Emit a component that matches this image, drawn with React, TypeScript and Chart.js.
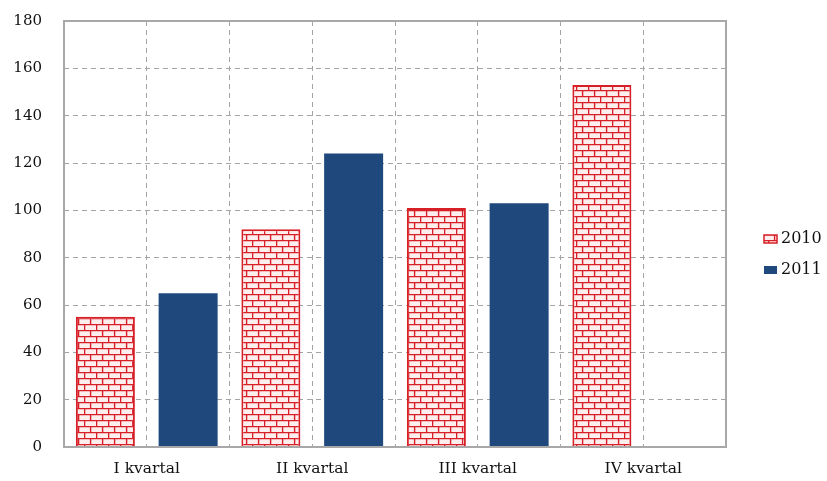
import React, { useEffect, useRef } from "react";
import { Chart, registerables } from "chart.js";

Chart.register(...registerables);

const categories = ["I kvartal", "II kvartal", "III kvartal", "IV kvartal"];
const seriesLabels = ["2010", "2011"];
const values2010 = [55, 92, 101, 153];
const values2011: (number | null)[] = [65, 124, 103, null];
const yMin = 0;
const yMax = 180;
const yStep = 20;

const FONT = "'DejaVu Serif', serif";
const RED = "#d61f27";
const BLUE = "#1f497d";

function makeBrick(): CanvasPattern | string {
  const c = document.createElement("canvas");
  c.width = 12;
  c.height = 12;
  const g = c.getContext("2d");
  if (!g) return "#fff";
  g.fillStyle = "#ffeeee";
  g.fillRect(0, 0, 12, 12);
  g.strokeStyle = RED;
  g.lineWidth = 1.4;
  g.beginPath();
  g.moveTo(0, 0.6);
  g.lineTo(12, 0.6);
  g.moveTo(0, 6.6);
  g.lineTo(12, 6.6);
  g.moveTo(0.6, 0);
  g.lineTo(0.6, 6);
  g.moveTo(6.6, 6);
  g.lineTo(6.6, 12);
  g.stroke();
  return g.createPattern(c, "repeat") || "#fff";
}

const framePlugin = {
  id: "frame",
  afterDatasetsDraw(chart: any) {
    const { ctx, chartArea } = chart;
    ctx.save();
    ctx.strokeStyle = "#a8a8a8";
    ctx.lineWidth = 2;
    ctx.strokeRect(chartArea.left, chartArea.top, chartArea.right - chartArea.left, chartArea.bottom - chartArea.top);
    ctx.restore();
  },
};

const legendPlugin = {
  id: "sideLegend",
  afterDraw(chart: any) {
    const ctx = chart.ctx;
    ctx.save();
    chart.data.datasets.forEach((ds: any, i: number) => {
      const cy = 239 + i * 31;
      const bx = 764;
      ctx.fillStyle = ds.backgroundColor;
      ctx.fillRect(bx, cy - 4, 13, 8);
      if (ds.borderWidth) {
        ctx.strokeStyle = ds.borderColor;
        ctx.lineWidth = 1.5;
        ctx.strokeRect(bx, cy - 4, 13, 8);
      }
      ctx.fillStyle = "#111";
      ctx.font = "16px " + FONT;
      ctx.textBaseline = "middle";
      ctx.textAlign = "left";
      ctx.fillText(ds.label, 781, cy);
    });
    ctx.restore();
  },
};

export default function App() {
  const ref = useRef<HTMLCanvasElement | null>(null);

  useEffect(() => {
    if (!ref.current) return;
    const brick = makeBrick();
    const gridLabels = categories.flatMap((c) => [c + "a", c + "b"]);
    const chart = new Chart(ref.current, {
      type: "bar",
      data: {
        labels: categories,
        datasets: [
          {
            label: seriesLabels[0],
            data: values2010,
            backgroundColor: brick as any,
            borderColor: RED,
            borderWidth: 2,
            categoryPercentage: 1.0,
            barPercentage: 0.713,
          },
          {
            label: seriesLabels[1],
            data: values2011,
            backgroundColor: BLUE,
            borderColor: BLUE,
            borderWidth: 0,
            categoryPercentage: 1.0,
            barPercentage: 0.713,
          },
        ],
      },
      options: {
        animation: false,
        responsive: false,
        devicePixelRatio: 1,
        layout: { padding: { left: 0, top: 21, right: 101, bottom: 0 } },
        plugins: {
          legend: { display: false },
          tooltip: { enabled: false },
        },
        scales: {
          x: {
            type: "category",
            offset: true,
            grid: { display: false, drawTicks: false },
            border: { display: false },
            ticks: {
              color: "#111",
              font: { family: FONT, size: 15.5 },
              padding: 13,
              maxRotation: 0,
            },
            afterFit: (s: any) => {
              s.height = 34;
            },
          },
          x2: {
            type: "category",
            labels: gridLabels,
            position: "bottom",
            offset: true,
            grid: {
              display: true,
              offset: true,
              drawTicks: false,
              color: "#a4a4a4",
              lineWidth: 1,
            },
            border: { display: false, dash: [5, 4] },
            ticks: { display: false },
            afterFit: (s: any) => {
              s.height = 0;
            },
          },
          y: {
            min: yMin,
            max: yMax,
            ticks: {
              stepSize: yStep,
              color: "#111",
              font: { family: FONT, size: 15 },
              padding: 22,
            },
            grid: { color: "#a4a4a4", lineWidth: 1, drawTicks: false },
            border: { display: false, dash: [5, 4] },
            afterFit: (s: any) => {
              s.width = 64;
              s.paddingTop = 9;
              s.paddingBottom = 0;
            },
          },
        },
      } as any,
      plugins: [framePlugin, legendPlugin],
    });
    return () => chart.destroy();
  }, []);

  return (
    <div style={{ position: "fixed", left: 0, top: 0, width: 827, height: 481, background: "#fff" }}>
      <canvas ref={ref} width={827} height={481} style={{ display: "block" }} />
    </div>
  );
}
